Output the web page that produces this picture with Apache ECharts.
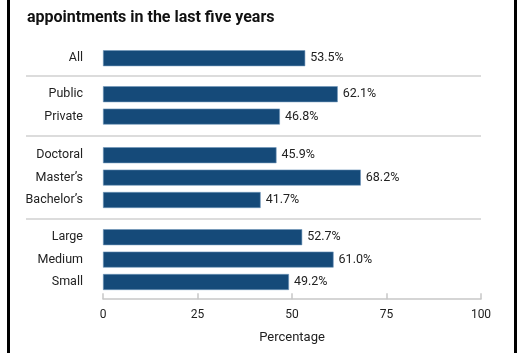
<!DOCTYPE html>
<html>
<head>
<meta charset="utf-8">
<script src="https://cdn.jsdelivr.net/npm/echarts@6/dist/echarts.min.js"></script>
<style>
  html, body { margin: 0; padding: 0; background: #fff; }
  #chart { width: 529px; height: 353px; }
</style>
</head>
<body>
<div id="chart"></div>
<script>
// groups of categories, top to bottom
const groupAll = ['All']
const groupControl = ['Public', 'Private']
const groupDegree = ['Doctoral', 'Master\u2019s', 'Bachelor\u2019s']
const groupSize = ['Large', 'Medium', 'Small']

const valuesAll = [53.5]
const valuesControl = [62.1, 46.8]
const valuesDegree = [45.9, 68.2, 41.7]
const valuesSize = [52.7, 61.0, 49.2]

const xTicks = [0, 25, 50, 75, 100]

const groups = [groupAll, groupControl, groupDegree, groupSize]
const values = [valuesAll, valuesControl, valuesDegree, valuesSize]

const font = 'Roboto, sans-serif'
const barColor = '#154a79'
const step = 22.4
const tops = [47, 83, 144, 226]

const chart = echarts.init(document.getElementById('chart'))

const grids = groups.map((g, i) => ({
  left: 103,
  width: 378,
  top: tops[i],
  height: step * g.length
}))

const xAxes = groups.map((g, i) => ({
  type: 'value',
  gridIndex: i,
  min: xTicks[0],
  max: xTicks[xTicks.length - 1],
  interval: 25,
  show: i === groups.length - 1,
  offset: 6,
  name: 'Percentage',
  nameLocation: 'middle',
  nameGap: 32,
  nameTextStyle: { fontFamily: font, fontSize: 13, color: '#222' },
  axisLine: { show: true, lineStyle: { color: '#c8c8c8', width: 1.5 } },
  axisTick: { show: true, inside: true, length: 6, lineStyle: { color: '#c8c8c8', width: 1.5 } },
  axisLabel: { fontFamily: font, fontSize: 12, color: '#222', margin: 10 },
  splitLine: { show: false }
}))

const yAxes = groups.map((g, i) => ({
  type: 'category',
  gridIndex: i,
  inverse: true,
  data: g,
  axisLine: { show: false },
  axisTick: { show: false },
  axisLabel: { fontFamily: font, fontSize: 12.5, color: '#222', margin: 20 }
}))

const series = groups.map((g, i) => ({
  type: 'bar',
  xAxisIndex: i,
  yAxisIndex: i,
  data: values[i],
  barWidth: 16,
  itemStyle: { color: barColor, borderColor: '#6f95ba', borderWidth: 0.6 },
  label: {
    show: true,
    position: 'right',
    distance: 5,
    fontFamily: font,
    fontSize: 12.5,
    color: '#222',
    formatter: p => p.value.toFixed(1) + '%'
  }
}))

// separator lines between groups and the outer frame
const sepY = [76, 136, 219]
const graphic = sepY.map(y => ({
  type: 'line',
  shape: { x1: 26, y1: y, x2: 481, y2: y },
  style: { stroke: '#d0d0d0', lineWidth: 1.5 }
}))
graphic.push(
  { type: 'rect', shape: { x: 7, y: 0, width: 3, height: 353 }, style: { fill: '#000' } },
  { type: 'rect', shape: { x: 514, y: 0, width: 3, height: 353 }, style: { fill: '#000' } }
)

chart.setOption({
  animation: false,
  title: {
    text: 'appointments in the last five years',
    left: 22,
    top: 5,
    textStyle: { fontFamily: font, fontSize: 16, fontWeight: 'bold', color: '#111' }
  },
  grid: grids,
  xAxis: xAxes,
  yAxis: yAxes,
  series: series,
  graphic: graphic
})
</script>
</body>
</html>
